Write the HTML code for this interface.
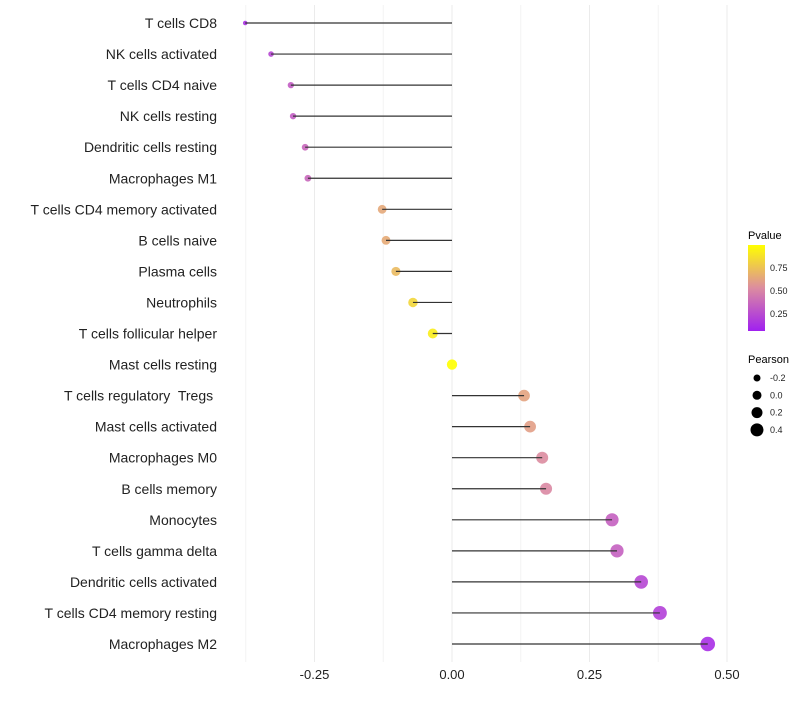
<!DOCTYPE html>
<html><head><meta charset="utf-8"><style>
body{margin:0;background:#fff;font-family:"Liberation Sans",sans-serif}
text{font-family:"Liberation Sans",sans-serif;white-space:pre}
</style></head><body>
<svg id="c" width="800" height="700">
<defs><linearGradient id="g" x1="0" y1="1" x2="0" y2="0">
<stop offset="0" stop-color="#a020f0"/><stop offset="0.5" stop-color="#dc8ca0"/><stop offset="1" stop-color="#ffff00"/></linearGradient></defs>
<g id="grid"></g>
<g id="dots"></g>
<g id="stems"></g>
<g id="legend">
<text x="748" y="239" font-size="11">Pvalue</text>
<rect x="748" y="245" width="17" height="86" fill="url(#g)"/>
<text x="748" y="363" font-size="11">Pearson</text>
</g>
</svg>
<script>
const categories=["T cells CD8","NK cells activated","T cells CD4 naive","NK cells resting","Dendritic cells resting","Macrophages M1","T cells CD4 memory activated","B cells naive","Plasma cells","Neutrophils","T cells follicular helper","Mast cells resting","T cells regulatory  Tregs ","Mast cells activated","Macrophages M0","B cells memory","Monocytes","T cells gamma delta","Dendritic cells activated","T cells CD4 memory resting","Macrophages M2"];
const pearson=[-0.376,-0.329,-0.293,-0.289,-0.267,-0.262,-0.127,-0.12,-0.102,-0.071,-0.035,0,0.131,0.142,0.164,0.171,0.291,0.3,0.344,0.378,0.465];
const pvalue=[0.08,0.18,0.28,0.28,0.33,0.33,0.62,0.63,0.7,0.82,0.92,1.0,0.6,0.58,0.5,0.48,0.3,0.3,0.18,0.15,0.07];
const xTicks=[-0.25,0,0.25,0.5];
const xMinor=[-0.375,-0.125,0.125,0.375];
const xTickLabels=["-0.25","0.00","0.25","0.50"];
const pTicks=[0.25,0.5,0.75];
const sizeTicks=[-0.2,0,0.2,0.4];
const NS="http://www.w3.org/2000/svg";
const X=v=>452+v*550, Y=i=>23+i*31.05;
const R=v=>Math.sqrt(Math.max(2.25,7.8+(v+0.329)*57));
const PY=p=>268+(0.75-p)*92;
function col(p){const a=[160,32,240],m=[220,140,160],b=[255,255,0];let t,c1,c2;if(p<0.5){t=p/0.5;c1=a;c2=m}else{t=(p-0.5)/0.5;c1=m;c2=b}return `rgb(${c1.map((v,k)=>Math.round(v+(c2[k]-v)*t)).join(',')})`}
function mk(tag,attrs,parent,txt){const e=document.createElementNS(NS,tag);for(const k in attrs)e.setAttribute(k,attrs[k]);if(txt!==undefined)e.textContent=txt;parent.appendChild(e);return e}
const grid=document.getElementById('grid'),dots=document.getElementById('dots'),stems=document.getElementById('stems'),leg=document.getElementById('legend');
xMinor.forEach(t=>{
 const l=mk('line',{x1:X(t),x2:X(t),y1:5,y2:662,stroke:'#f4f4f4','stroke-width':1},grid);
 
 
});
xTicks.forEach((t,i)=>{
 const l=mk('line',{x1:X(t),x2:X(t),y1:5,y2:662,stroke:'#ebebeb','stroke-width':1},grid);
 
 
 const tx=mk('text',{x:X(t),y:679,'font-size':13,'text-anchor':'middle',fill:'#222'},grid,xTickLabels[i]);
 
 
});
categories.forEach((c,i)=>{
 const tx=mk('text',{x:217,y:Y(i)+5,'font-size':14,'text-anchor':'end',fill:'#222','xml:space':'preserve'},grid,c);
 
 
 const d=mk('circle',{cx:X(pearson[i]),cy:Y(i),r:R(pearson[i]),fill:col(pvalue[i]),'fill-opacity':0.9},dots);
 
 
 const l=mk('line',{x1:X(0),x2:X(pearson[i]),y1:Y(i),y2:Y(i),stroke:'#333','stroke-width':1.2},stems);
 
 
});
pTicks.forEach(p=>{
 const tx=mk('text',{x:770,y:PY(p)+3,'font-size':9,fill:'#222'},leg,p.toFixed(2));
 
 
});
const legR=[3.5,4.5,5.5,6.5];
sizeTicks.forEach((s,i)=>{
 const y=378+i*17.3;
 const c=mk('circle',{cx:757,cy:y,r:legR[i]},leg);
 
 
 const tx=mk('text',{x:770,y:y+3,'font-size':9,fill:'#222'},leg,s.toFixed(1));
 
 
});
</script>
</body></html>
